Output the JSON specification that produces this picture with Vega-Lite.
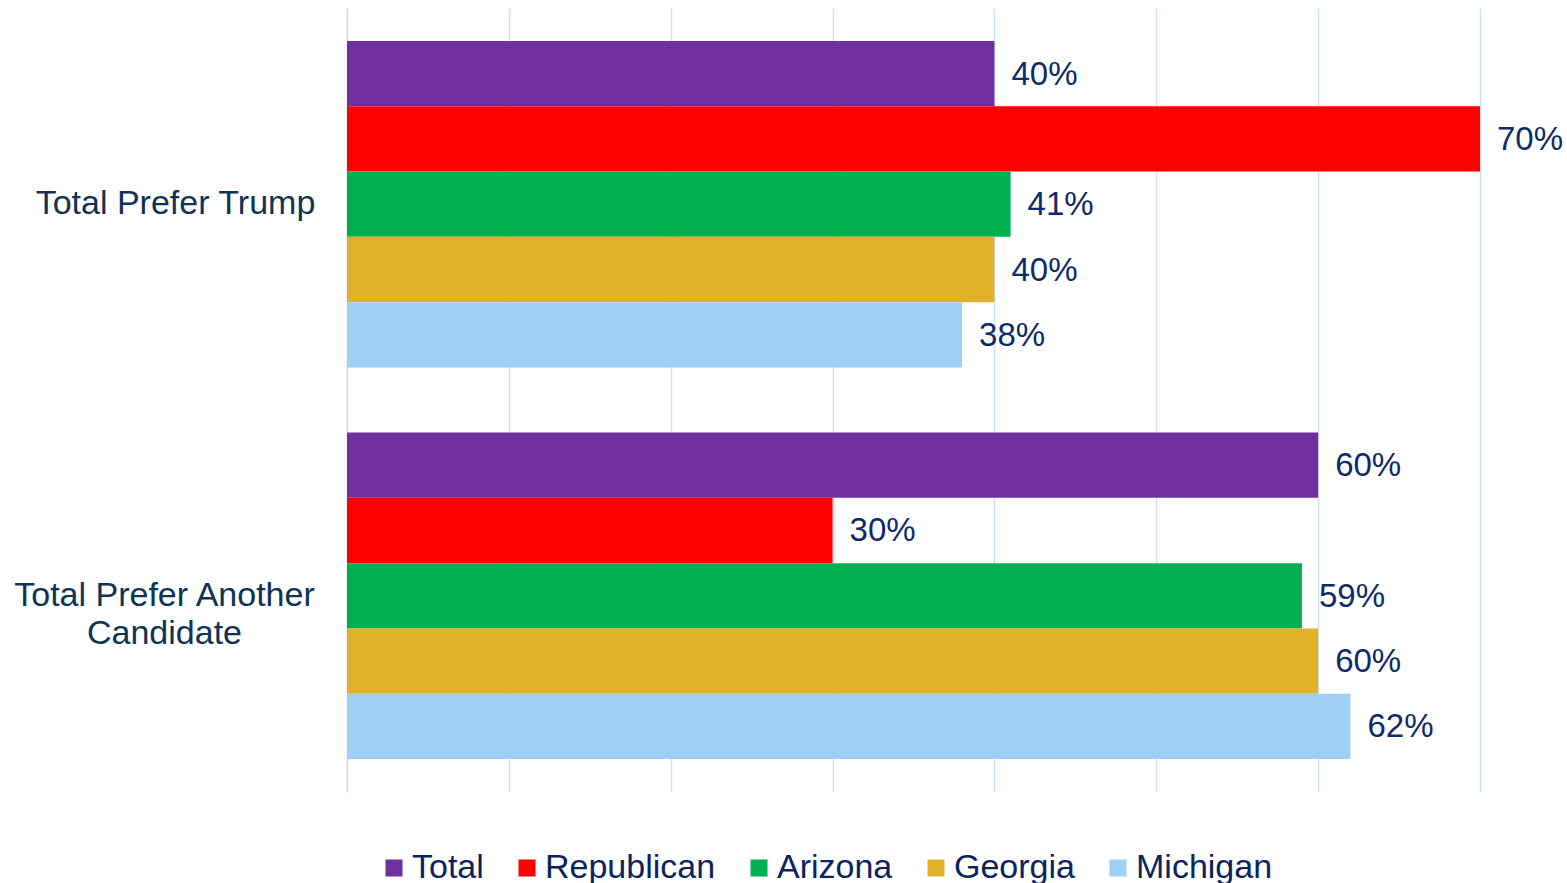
{
  "$schema": "https://vega.github.io/schema/vega-lite/v6.json",
  "width": 1133,
  "height": 784,
  "autosize": {"type": "none"},
  "padding": {"left": 347, "top": 8, "right": 87, "bottom": 91},
  "background": "white",
  "config": {"view": {"stroke": null}, "font": "Liberation Sans"},
  "data": {
    "values": [
      {"category": "Total Prefer Trump", "group": "Total", "value": 0.40},
      {"category": "Total Prefer Trump", "group": "Republican", "value": 0.70},
      {"category": "Total Prefer Trump", "group": "Arizona", "value": 0.41},
      {"category": "Total Prefer Trump", "group": "Georgia", "value": 0.40},
      {"category": "Total Prefer Trump", "group": "Michigan", "value": 0.38},
      {"category": "Total Prefer Another Candidate", "group": "Total", "value": 0.60},
      {"category": "Total Prefer Another Candidate", "group": "Republican", "value": 0.30},
      {"category": "Total Prefer Another Candidate", "group": "Arizona", "value": 0.59},
      {"category": "Total Prefer Another Candidate", "group": "Georgia", "value": 0.60},
      {"category": "Total Prefer Another Candidate", "group": "Michigan", "value": 0.62}
    ]
  },
  "encoding": {
    "y": {
      "field": "category",
      "type": "nominal",
      "sort": ["Total Prefer Trump", "Total Prefer Another Candidate"],
      "scale": {"paddingInner": 0.166, "paddingOuter": 0.084},
      "axis": {
        "title": null,
        "domain": false,
        "ticks": false,
        "tickSize": 0,
        "labelFontSize": 34,
        "labelColor": "#0e3354",
        "labelAlign": "center",
        "labelBaseline": "middle",
        "labelLimit": 0,
        "labelLineHeight": 38,
        "labelPadding": {"condition": {"test": "datum.value == 'Total Prefer Trump'", "value": 172}, "value": 183},
        "labelExpr": "datum.value == 'Total Prefer Another Candidate' ? ['Total Prefer Another', 'Candidate'] : datum.label"
      }
    },
    "yOffset": {
      "field": "group",
      "type": "nominal",
      "sort": ["Total", "Republican", "Arizona", "Georgia", "Michigan"],
      "scale": {"paddingInner": 0, "paddingOuter": 0}
    },
    "x": {
      "field": "value",
      "type": "quantitative",
      "scale": {"domain": [0, 0.7], "nice": false},
      "axis": {
        "title": null,
        "labels": false,
        "ticks": false,
        "domain": false,
        "grid": true,
        "values": [0, 0.1, 0.2, 0.3, 0.4, 0.5, 0.6, 0.7],
        "gridColor": {"condition": {"test": "datum.value == 0", "value": "#d3d7db"}, "value": "#cde3f7"},
        "gridWidth": 1.5
      }
    }
  },
  "layer": [
    {
      "mark": {"type": "bar"},
      "encoding": {
        "color": {
          "field": "group",
          "type": "nominal",
          "sort": ["Total", "Republican", "Arizona", "Georgia", "Michigan"],
          "scale": {
            "domain": ["Total", "Republican", "Arizona", "Georgia", "Michigan"],
            "range": ["#7030a0", "#ff0000", "#00b050", "#e1b12c", "#9fcff5"]
          },
          "legend": {
            "title": null,
            "orient": "none",
            "direction": "horizontal",
            "columns": 5,
            "legendX": 30,
            "legendY": 843,
            "padding": 0,
            "symbolType": "square",
            "symbolSize": 289,
            "symbolStrokeWidth": 0,
            "labelFontSize": 34,
            "labelColor": "#0c2360",
            "labelOffset": 1,
            "columnPadding": 26,
            "labelLimit": 0
          }
        }
      }
    },
    {
      "mark": {"type": "text", "dx": 17, "dy": 1, "align": "left", "baseline": "middle", "fontSize": 33, "color": "#0f2a6b"},
      "encoding": {
        "text": {"field": "value", "type": "quantitative", "format": ".0%"}
      }
    }
  ]
}
